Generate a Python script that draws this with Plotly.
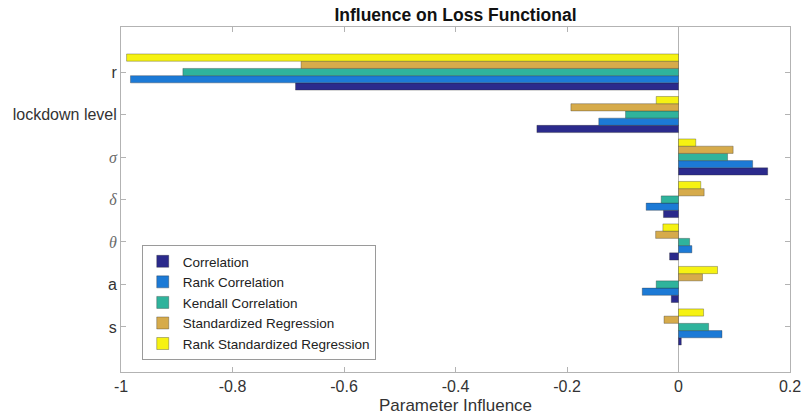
import plotly.graph_objects as go

# categories, bottom to top (MATLAB barh order)
categories = ["s", "a", "θ", "δ", "σ", "lockdown level", "r"]
cat_pos = [1, 2, 3, 4, 5, 6, 7]
tick_labels = [
    "s",
    "a",
    '<span style="font-family:Liberation Serif;fill:#6a6a6a"><i>θ</i></span>',
    '<span style="font-family:Liberation Serif;fill:#6a6a6a"><i>δ</i></span>',
    '<span style="font-family:Liberation Serif;fill:#6a6a6a"><i>σ</i></span>',
    "lockdown level",
    "r",
]

correlation = [0.005, -0.013, -0.016, -0.027, 0.160, -0.254, -0.687]
rank_correlation = [0.078, -0.065, 0.024, -0.058, 0.133, -0.143, -0.983]
kendall_correlation = [0.054, -0.040, 0.020, -0.031, 0.088, -0.095, -0.889]
standardized_regression = [-0.026, 0.043, -0.041, 0.046, 0.098, -0.193, -0.677]
rank_standardized_regression = [0.045, 0.070, -0.028, 0.040, 0.031, -0.040, -0.990]

series_names = ["Correlation", "Rank Correlation", "Kendall Correlation",
                "Standardized Regression", "Rank Standardized Regression"]
series_values = [correlation, rank_correlation, kendall_correlation,
                 standardized_regression, rank_standardized_regression]
colors = ["#2b2a8c", "#1c7ad6", "#2fb39c", "#d6ab4b", "#f6f212"]

x_ticks = [-1, -0.8, -0.6, -0.4, -0.2, 0, 0.2]
x_tick_labels = ["-1", "-0.8", "-0.6", "-0.4", "-0.2", "0", "0.2"]

fig = go.Figure()
for name, vals, col in zip(series_names, series_values, colors):
    fig.add_trace(go.Bar(
        x=vals, y=cat_pos, orientation="h", name=name,
        marker=dict(color=col, line=dict(color="rgba(40,40,40,0.55)", width=0.6)),
    ))

axis_col = "#b3b3b3"
fig.update_layout(
    width=802, height=420,
    margin=dict(l=121, r=12, t=27, b=48),
    paper_bgcolor="white", plot_bgcolor="white",
    barmode="group", bargap=0.15, bargroupgap=0,
    font=dict(family="Liberation Sans, Arial, sans-serif", color="#333333"),
    title=dict(text="<b>Influence on Loss Functional</b>", x=(121 + 790) / 2 / 802,
               xanchor="center", y=1 - 15 / 420, yanchor="middle",
               font=dict(size=17.5, color="#111111")),
    showlegend=True,
    legend=dict(x=0.031, y=0.368, xanchor="left", yanchor="top",
                bgcolor="white", bordercolor="#9a9a9a", borderwidth=1,
                traceorder="normal", font=dict(size=13.5, color="#222222"),
                itemwidth=30, tracegroupgap=0),
)
fig.update_xaxes(
    range=[-1, 0.2], tickvals=x_ticks, ticktext=x_tick_labels, automargin=False,
    ticks="inside", ticklen=5, tickcolor=axis_col,
    showline=True, linecolor=axis_col, linewidth=1, mirror="ticks",
    showgrid=False, zeroline=True, zerolinecolor=axis_col, zerolinewidth=1,
    tickfont=dict(size=16, color="#333333"),
    title=dict(text="Parameter Influence", font=dict(size=17, color="#333333"), standoff=4),
)
fig.update_yaxes(
    range=[-0.06, 8.06], tickvals=cat_pos, ticktext=tick_labels, automargin=False,
    ticks="inside", ticklen=5, tickcolor=axis_col,
    showline=True, linecolor=axis_col, linewidth=1, mirror="ticks",
    showgrid=False, zeroline=False,
    tickfont=dict(size=16, color="#333333"),
)

fig.write_html("out.html", config={"displayModeBar": False},
               post_script="document.body.style.margin='0';document.body.style.overflow='hidden';")
